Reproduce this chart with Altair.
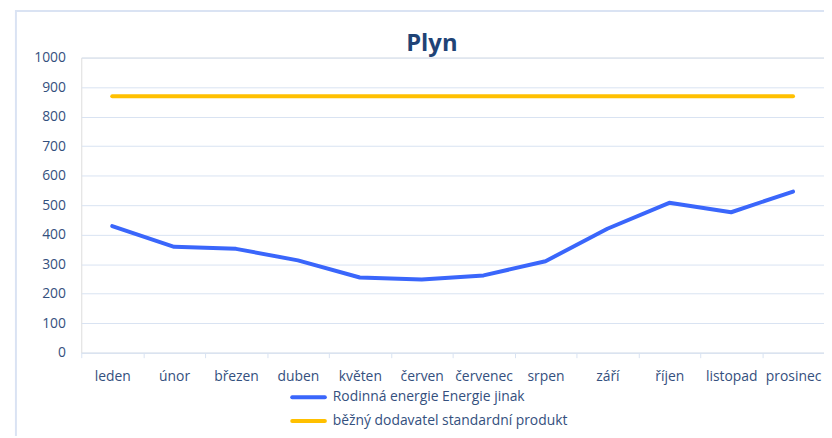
import altair as alt
import pandas as pd

months = ["leden", "únor", "březen", "duben", "květen", "červen",
          "červenec", "srpen", "září", "říjen", "listopad", "prosinec"]
series_names = ["Rodinná energie Energie jinak", "běžný dodavatel standardní produkt"]
rodinna = [429, 359, 352, 313, 255, 248, 262, 310, 420, 508, 476, 546]
bezny = [869] * 12
y_ticks = list(range(0, 1001, 100))
colors = ["#3a66fb", "#ffc000"]
chart_title = "Plyn"

rows = []
for m, v in zip(months, rodinna):
    rows.append({"month": m, "series": series_names[0], "value": v})
for m, v in zip(months, bezny):
    rows.append({"month": m, "series": series_names[1], "value": v})
df = pd.DataFrame(rows)

TEXT = "#34507e"
GRID = "#d9e3f2"
FONT = "Open Sans"

lines = alt.Chart(df).mark_line(strokeWidth=4, strokeCap="round", strokeJoin="round").encode(
    x=alt.X("month:N", sort=months, title=None,
            scale=alt.Scale(type="band", paddingInner=0, paddingOuter=0),
            axis=alt.Axis(labelAngle=0, tickBand="extent", domainColor=GRID, tickColor=GRID,
                          tickSize=5, labelColor=TEXT, labelFontSize=14, labelFont=FONT,
                          labelPadding=12, grid=False)),
    y=alt.Y("value:Q", title=None, scale=alt.Scale(domain=[0, 1000], nice=False),
            axis=alt.Axis(values=y_ticks, format="d", domain=False, ticks=False, gridColor=GRID,
                          labelColor=TEXT, labelFontSize=14, labelFont=FONT, labelPadding=16)),
    color=alt.Color("series:N", sort=series_names,
                    scale=alt.Scale(domain=series_names, range=colors), legend=None),
)

# manual legend (two entries)
legend_layers = []
legend_rows_y = [343, 367]
for name, col, ly in zip(series_names, colors, legend_rows_y):
    one = pd.DataFrame({"label": [name]})
    legend_layers.append(
        alt.Chart(one).mark_rule(color=col, strokeWidth=4, strokeCap="round").encode(
            x=alt.value(213), x2=alt.value(246), y=alt.value(ly))
    )
    legend_layers.append(
        alt.Chart(one).mark_text(font=FONT, fontSize=14, color=TEXT, align="left",
                                 baseline="middle").encode(
            text="label:N", x=alt.value(254), y=alt.value(ly))
    )

title_layer = alt.Chart(pd.DataFrame({"t": [chart_title]})).mark_text(
    font=FONT, fontSize=24, fontWeight="bold", color="#1f4376",
    align="center", baseline="alphabetic"
).encode(text="t:N", x=alt.value(354), y=alt.value(-7))

frame = alt.Chart(pd.DataFrame({"a": [0]})).mark_rect(
    fill=None, stroke="#dae3f3", strokeWidth=2
).encode(
    x=alt.value(-66), x2=alt.value(900), y=alt.value(-47), y2=alt.value(500)
)

chart = alt.layer(frame, lines, title_layer, *legend_layers).properties(
    width=750, height=298,
    autosize=alt.AutoSizeParams(type="none"),
    padding={"left": 74, "top": 48, "right": 0, "bottom": 82},
).configure_view(stroke=None).configure(background="white")

chart.save("out.html", embed_options={"renderer": "svg", "actions": False})
